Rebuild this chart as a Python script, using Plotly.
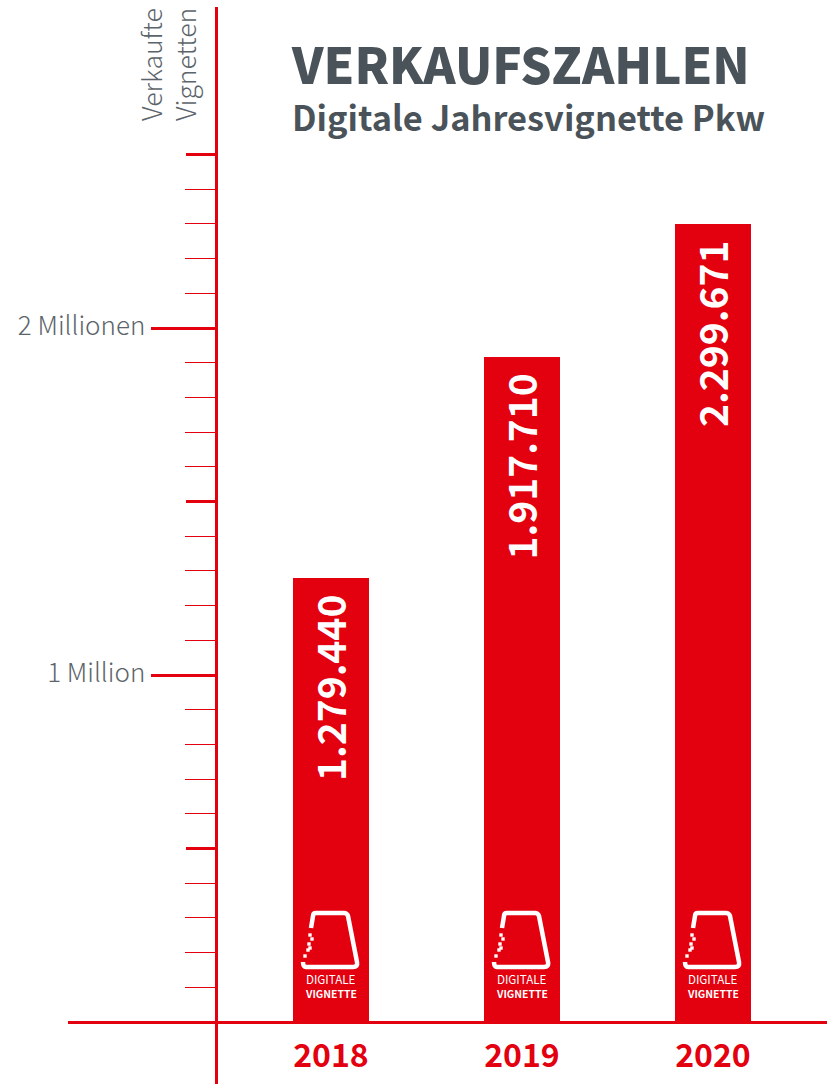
import plotly.graph_objects as go

# Sales of the digital annual car vignette
years = [2018, 2019, 2020]
sold = [1279440, 1917710, 2299671]
sold_labels = ["1.279.440", "1.917.710", "2.299.671"]

labelled_ticks = [1000000, 2000000]
labelled_tick_text = ["1 Million", "2 Millionen"]
half_ticks = [500000, 1500000, 2500000]
tenth_ticks = [100000, 200000, 300000, 400000, 600000, 700000, 800000, 900000,
               1100000, 1200000, 1300000, 1400000, 1600000, 1700000, 1800000, 1900000,
               2100000, 2200000, 2300000, 2400000]

RED = "#e3000f"
GREY = "#4a5359"
SOFT_GREY = "#5b646a"
W, H = 829, 1084
FONT = "Noto Sans CJK SC"

# Pixel layout of the plot area
left, right, top, bottom = 68, 2, 7, 0
px_per_unit = 347.0 / 1e6
px_per_year = 191.0
plot_w = W - left - right
plot_h = H - top - bottom
base_px = 1022.0
x0 = years[0] - (331 - left) / px_per_year
x1 = x0 + plot_w / px_per_year
y_lo = -(H - base_px) / px_per_unit
y_hi = (base_px - top) / px_per_unit

fig = go.Figure()

fig.add_bar(
    x=years, y=sold, width=76 / px_per_year,
    marker=dict(color=RED, line=dict(width=0)),
    hoverinfo="skip", showlegend=False,
)

# Half-million ticks are heavier, so they live on an overlaid axis
fig.add_scatter(x=[years[0]], y=[0], yaxis="y2", mode="none", showlegend=False, hoverinfo="skip")

# Value labels, rotated inside each bar
for yr, val, txt in zip(years, sold, sold_labels):
    fig.add_annotation(
        x=yr, y=val, xref="x", yref="y", text=txt, textangle=-90, showarrow=False,
        yanchor="top", xanchor="center", yshift=-15, xshift=-2,
        font=dict(family=FONT, size=39, color="white", weight=700),
    )

# Vignette emblem, anchored to the foot of each bar (offsets in pixels)
outline = ("M -28 60 Q -28 55 -25 55 L 22 55 Q 27 55 26 60 L 17 106 Q 16 109 13 109 "
           "L -15 109 Q -18 109 -18 106 L -20 94")
dots = [(-21, 87), (-19, 83), (-22, 78), (-21, 74), (-23, 72), (-26, 66)]
for yr in years:
    fig.add_shape(
        type="path", path=outline, xref="x", yref="y", xsizemode="pixel", ysizemode="pixel",
        xanchor=yr, yanchor=0, line=dict(color="white", width=4.5), layer="above",
    )
    for dx, dy in dots:
        fig.add_shape(
            type="rect", x0=dx - 1.7, x1=dx + 1.7, y0=dy - 1.7, y1=dy + 1.7,
            xref="x", yref="y", xsizemode="pixel", ysizemode="pixel",
            xanchor=yr, yanchor=0, fillcolor="white", line=dict(width=0), layer="above",
        )
    fig.add_annotation(
        x=yr, y=0, text="DIGITALE", showarrow=False, yshift=43, borderpad=0,
        font=dict(family=FONT, size=11.6, color="white"),
    )
    fig.add_annotation(
        x=yr, y=0, text="VIGNETTE", showarrow=False, yshift=29, borderpad=0,
        font=dict(family=FONT, size=10.4, color="white", weight=700),
    )

# Axis caption, two rotated lines beside the top of the axis
fig.add_annotation(
    x=(167 - left) / plot_w, y=1 - (65 - top) / plot_h, xref="paper", yref="paper",
    xanchor="center", yanchor="middle",
    text="Verkaufte<br>Vignetten", textangle=-90, align="left", showarrow=False,
    font=dict(family=FONT, size=26.5, color=SOFT_GREY, weight=300),
)

# Subtitle under the headline
fig.add_annotation(
    x=(293 - left) / plot_w, y=1 - (116 - top) / plot_h, xref="paper", yref="paper",
    xanchor="left", yanchor="middle", xshift=-3,
    text="Digitale Jahresvignette Pkw", showarrow=False,
    font=dict(family=FONT, size=34.4, color=GREY, weight=700),
)

fig.update_layout(
    width=W, height=H, autosize=False,
    margin=dict(l=left, r=right, t=top, b=bottom, pad=0),
    paper_bgcolor="white", plot_bgcolor="white", bargap=0,
    title=dict(
        text="VERKAUFSZAHLEN",
        x=292 / W, xanchor="left", xref="container",
        y=1 - 67 / H, yanchor="middle", yref="container",
        font=dict(family=FONT, size=49, color=GREY, weight=900),
    ),
    xaxis=dict(
        range=[x0, x1], tickvals=years, ticktext=[str(y) for y in years],
        showgrid=False, zeroline=False, showline=True, linecolor=RED, linewidth=3,
        ticks="", anchor="free", position=(H - base_px) / plot_h,
        tickfont=dict(family=FONT, size=32, color=RED, weight=700),
        ticklabelstandoff=5,
    ),
    yaxis=dict(
        range=[y_lo, y_hi], tickvals=labelled_ticks, ticktext=labelled_tick_text,
        showgrid=False, zeroline=False, showline=True, linecolor=RED, linewidth=3,
        ticks="outside", ticklen=64, tickwidth=3, tickcolor=RED,
        anchor="free", position=(215.5 - left) / plot_w,
        tickfont=dict(family=FONT, size=26, color=SOFT_GREY, weight=300),
        ticklabelshift=-2,
        minor=dict(tickvals=tenth_ticks, ticks="outside", ticklen=30, tickwidth=1, tickcolor=RED, showgrid=False),
    ),
    yaxis2=dict(
        overlaying="y", range=[y_lo, y_hi], tickvals=half_ticks, ticktext=["", "", ""],
        showgrid=False, zeroline=False, showline=False,
        ticks="outside", ticklen=30, tickwidth=3, tickcolor=RED,
        anchor="free", position=(215.5 - left) / plot_w, side="left",
    ),
)

fig.write_html("out.html", config=dict(displayModeBar=False))
